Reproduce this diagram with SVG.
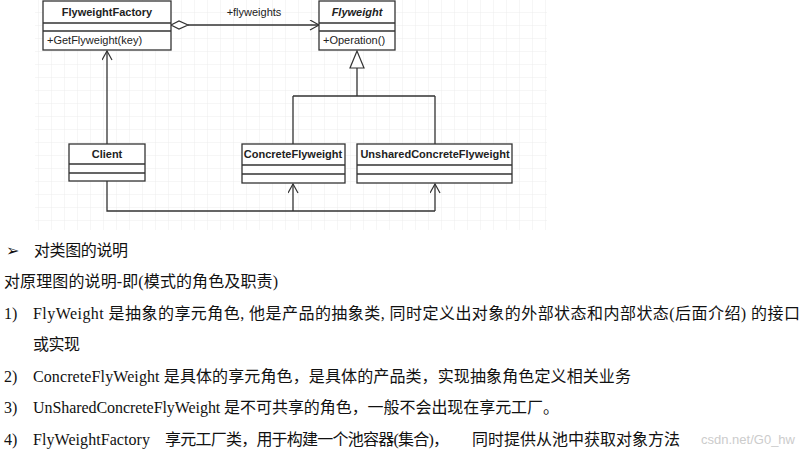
<svg xmlns="http://www.w3.org/2000/svg" width="806" height="455" viewBox="0 0 806 455">
<style>
.box{fill:#fff;stroke:#333;stroke-width:1.3}
.t{font-family:"Liberation Sans",Arial,sans-serif;font-size:11px;fill:#222}
.b{font-weight:bold}
.ln{fill:none;stroke:#333;stroke-width:1.3}
.p{font-family:"Liberation Serif","Noto Sans CJK SC",serif;font-size:16px;fill:#111}
</style>
<defs>
<pattern id="g" width="13" height="13" patternUnits="userSpaceOnUse"><path d="M13 0V13H0" fill="none" stroke="#ececec" stroke-width="1"/></pattern>
<marker id="open" markerWidth="12" markerHeight="12" refX="10" refY="5" orient="auto" markerUnits="userSpaceOnUse"><path d="M1 0L10 5L1 10" fill="none" stroke="#333" stroke-width="1.2"/></marker>
</defs>
<rect width="806" height="455" fill="#fff"/>
<rect x="35" y="0" width="512" height="230" fill="url(#g)"/>
<g id="connectors">
<path class="ln" d="M188 25H319" marker-end="url(#open)"/>
<path d="M171 25L179 21L188 25L179 29Z" fill="#fff" stroke="#333" stroke-width="1.2"/>
<text class="t" x="254" y="16" text-anchor="middle" fill="#444">+flyweights</text>
<path class="ln" d="M357 68V96M293 96H435M293 96V144M435 96V144"/>
<path d="M357 51L350 68H364Z" fill="#fff" stroke="#333" stroke-width="1.2"/>
<path class="ln" d="M107 144V51" marker-end="url(#open)"/>
<path class="ln" d="M107 181V211H435"/>
<path class="ln" d="M293 211V184" marker-end="url(#open)"/>
<path class="ln" d="M435 211V184" marker-end="url(#open)"/>
</g>
<g id="FlyweightFactory">
<rect class="box" x="43" y="1" width="128" height="49"/>
<path class="ln" d="M43 23H171M43 31H171"/>
<text class="t b" x="107" y="16" text-anchor="middle">FlyweightFactory</text>
<text class="t" x="47" y="44">+GetFlyweight(key)</text>
</g>
<g id="Flyweight">
<rect class="box" x="319" y="1" width="76" height="49"/>
<path class="ln" d="M319 23H395M319 31H395"/>
<text class="t b" x="357" y="16" text-anchor="middle" font-style="italic">Flyweight</text>
<text class="t" x="323" y="44">+Operation()</text>
</g>
<g id="Client">
<rect class="box" x="69" y="144" width="76" height="37"/>
<path class="ln" d="M69 164H145M69 173H145"/>
<text class="t b" x="107" y="158" text-anchor="middle">Client</text>
</g>
<g id="ConcreteFlyweight">
<rect class="box" x="242" y="144" width="103" height="39"/>
<path class="ln" d="M242 165H345M242 174H345"/>
<text class="t b" x="293" y="158" text-anchor="middle">ConcreteFlyweight</text>
</g>
<g id="UnsharedConcreteFlyweight">
<rect class="box" x="357" y="144" width="155" height="39"/>
<path class="ln" d="M357 165H512M357 174H512"/>
<text class="t b" x="435" y="158" text-anchor="middle">UnsharedConcreteFlyweight</text>
</g>
<g id="text">
<text class="p" x="6" y="256" font-size="13">➢</text>
<text class="p" x="34" y="256" textLength="94" lengthAdjust="spacing">对类图的说明</text>
<text class="p" x="4" y="287" textLength="274" lengthAdjust="spacing">对原理图的说明-即(模式的角色及职责)</text>
<text class="p" x="4" y="319">1)</text>
<text class="p" x="33" y="319" textLength="767" lengthAdjust="spacing">FlyWeight 是抽象的享元角色, 他是产品的抽象类, 同时定义出对象的外部状态和内部状态(后面介绍) 的接口</text>
<text class="p" x="33" y="350" textLength="47" lengthAdjust="spacing">或实现</text>
<text class="p" x="4" y="382">2)</text>
<text class="p" x="33" y="382" textLength="598" lengthAdjust="spacing">ConcreteFlyWeight 是具体的享元角色，是具体的产品类，实现抽象角色定义相关业务</text>
<text class="p" x="4" y="413">3)</text>
<text class="p" x="33" y="413" textLength="526" lengthAdjust="spacing">UnSharedConcreteFlyWeight 是不可共享的角色，一般不会出现在享元工厂。</text>
<text class="p" x="4" y="445">4)</text>
<text class="p" x="33" y="445" textLength="117" lengthAdjust="spacing">FlyWeightFactory</text>
<text class="p" x="165" y="445" textLength="284" lengthAdjust="spacing">享元工厂类，用于构建一个池容器(集合)，</text>
<text class="p" x="472" y="445" textLength="208" lengthAdjust="spacing">同时提供从池中获取对象方法</text>
<text x="795" y="444" text-anchor="end" font-family="Liberation Sans,sans-serif" font-size="13" fill="#ccc">csdn.net/G0_hw</text>
</g>
</svg>
